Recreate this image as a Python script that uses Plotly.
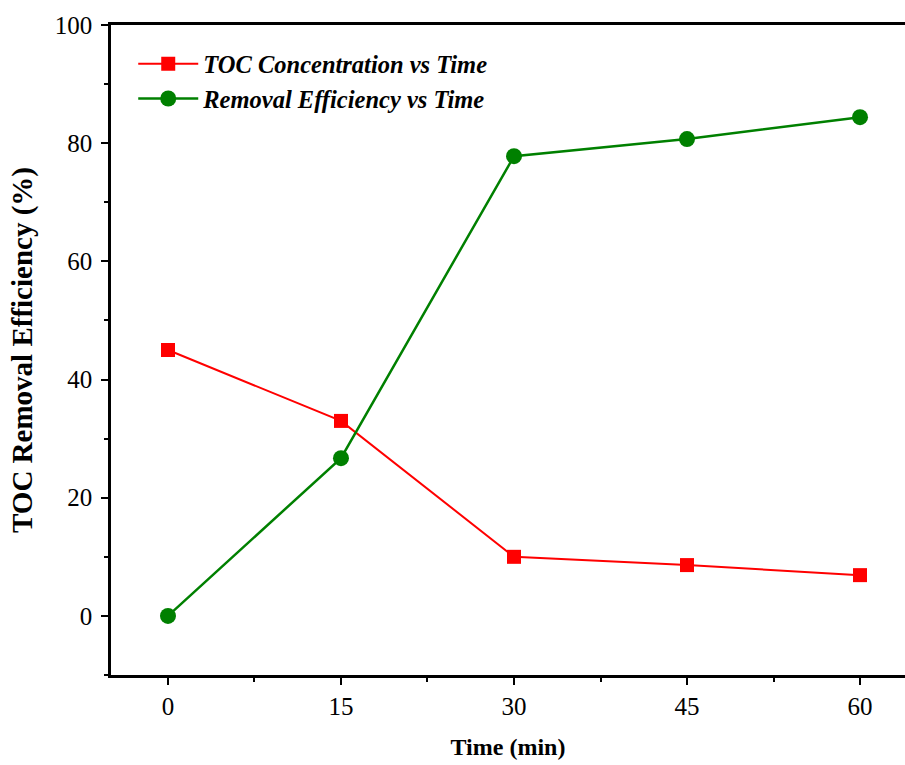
import plotly.graph_objects as go

time_min = [0, 15, 30, 45, 60]
toc_conc = [45, 33, 10, 8.6, 6.9]
removal_eff = [0, 26.7, 77.8, 80.7, 84.4]
x_ticks = [0, 15, 30, 45, 60]
y_ticks = [0, 20, 40, 60, 80, 100]

font_family = "Liberation Serif"

fig = go.Figure()
fig.add_trace(go.Scatter(
    x=time_min, y=toc_conc, mode="lines+markers",
    name="TOC Concentration vs Time",
    line=dict(color="#ff0000", width=2),
    marker=dict(symbol="square", size=14, color="#ff0000"),
))
fig.add_trace(go.Scatter(
    x=time_min, y=removal_eff, mode="lines+markers",
    name="Removal Efficiency vs Time",
    line=dict(color="#008000", width=2.5),
    marker=dict(symbol="circle", size=16, color="#008000"),
))

axis_common = dict(
    showgrid=False, zeroline=False, showline=True, linecolor="black", linewidth=2.5,
    ticks="outside", ticklen=7, tickwidth=2, tickcolor="black",
    tickfont=dict(family=font_family, size=25, color="black"),
)

fig.update_layout(
    width=905, height=765,
    margin=dict(l=111, r=0, t=25, b=90),
    paper_bgcolor="white", plot_bgcolor="white",
    xaxis=dict(
        range=[-4.94, 63.9], tickvals=x_ticks, mirror=True,
        minor=dict(dtick=7.5, tick0=0, ticks="outside", ticklen=4, tickwidth=2, tickcolor="black"),
        title=dict(text="<b>Time (min)</b>", font=dict(family=font_family, size=24, color="black"), standoff=20),
        **axis_common,
    ),
    yaxis=dict(
        range=[-10, 100], tickvals=y_ticks, ticklabelstandoff=4,
        minor=dict(dtick=10, tick0=0, ticks="outside", ticklen=4, tickwidth=2, tickcolor="black"),
        title=dict(text="<b>TOC Removal Efficiency (%)</b>", font=dict(family=font_family, size=29, color="black"), standoff=14),
        **axis_common,
    ),
    legend=dict(
        x=0.028, y=0.975, xanchor="left", yanchor="top",
        bgcolor="rgba(0,0,0,0)",
        font=dict(family=font_family, size=24.5, color="black", style="italic", weight="bold"),
        itemwidth=60, tracegroupgap=0,
    ),
    showlegend=True,
)

fig.write_html("out.html")
